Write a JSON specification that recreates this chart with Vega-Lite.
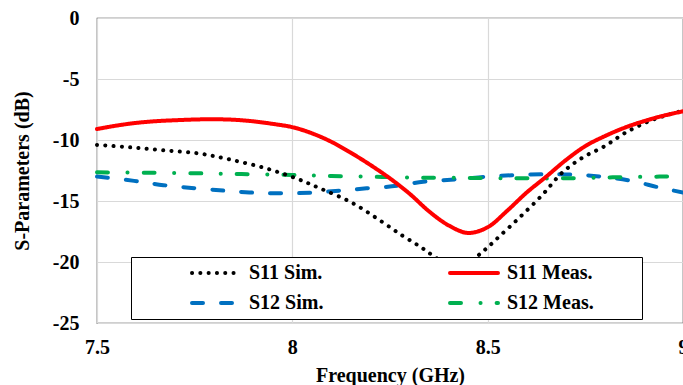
{
  "$schema": "https://vega.github.io/schema/vega-lite/v6.json",
  "width": 586,
  "height": 305,
  "autosize": {"type": "none"},
  "padding": {"left": 97, "top": 18, "right": 0, "bottom": 62},
  "background": "white",
  "config": {
    "view": {"stroke": "#404040", "strokeWidth": 1.2},
    "font": "Liberation Serif",
    "axis": {
      "labelFont": "Liberation Serif", "labelFontSize": 20, "labelFontWeight": "bold", "labelColor": "black",
      "titleFont": "Liberation Serif", "titleFontSize": 20, "titleFontWeight": "bold", "titleColor": "black",
      "domain": false, "ticks": false, "gridColor": "#d9d9d9", "gridWidth": 1.2
    }
  },
  "data": {"values": [
    {"f": 7.5, "v": -13.0, "s": "S12 Sim."},
    {"f": 7.595, "v": -13.35, "s": "S12 Sim."},
    {"f": 7.67, "v": -13.7, "s": "S12 Sim."},
    {"f": 7.75, "v": -13.95, "s": "S12 Sim."},
    {"f": 7.825, "v": -14.15, "s": "S12 Sim."},
    {"f": 7.89, "v": -14.3, "s": "S12 Sim."},
    {"f": 7.965, "v": -14.37, "s": "S12 Sim."},
    {"f": 8.045, "v": -14.32, "s": "S12 Sim."},
    {"f": 8.12, "v": -14.15, "s": "S12 Sim."},
    {"f": 8.19, "v": -13.96, "s": "S12 Sim."},
    {"f": 8.27, "v": -13.75, "s": "S12 Sim."},
    {"f": 8.335, "v": -13.42, "s": "S12 Sim."},
    {"f": 8.43, "v": -13.2, "s": "S12 Sim."},
    {"f": 8.5, "v": -13.0, "s": "S12 Sim."},
    {"f": 8.64, "v": -12.8, "s": "S12 Sim."},
    {"f": 8.72, "v": -12.84, "s": "S12 Sim."},
    {"f": 8.79, "v": -13.0, "s": "S12 Sim."},
    {"f": 8.865, "v": -13.33, "s": "S12 Sim."},
    {"f": 8.94, "v": -13.9, "s": "S12 Sim."},
    {"f": 9.0, "v": -14.3, "s": "S12 Sim."},
    {"f": 7.5, "v": -12.65, "s": "S12 Meas."},
    {"f": 7.63, "v": -12.68, "s": "S12 Meas."},
    {"f": 7.76, "v": -12.73, "s": "S12 Meas."},
    {"f": 7.87, "v": -12.79, "s": "S12 Meas."},
    {"f": 8.0, "v": -12.87, "s": "S12 Meas."},
    {"f": 8.1, "v": -12.95, "s": "S12 Meas."},
    {"f": 8.23, "v": -13.03, "s": "S12 Meas."},
    {"f": 8.335, "v": -13.09, "s": "S12 Meas."},
    {"f": 8.46, "v": -13.11, "s": "S12 Meas."},
    {"f": 8.58, "v": -13.14, "s": "S12 Meas."},
    {"f": 8.69, "v": -13.14, "s": "S12 Meas."},
    {"f": 8.82, "v": -13.06, "s": "S12 Meas."},
    {"f": 8.94, "v": -13.0, "s": "S12 Meas."},
    {"f": 9.0, "v": -13.0, "s": "S12 Meas."},
    {"f": 7.5, "v": -10.4, "s": "S11 Sim."},
    {"f": 7.585, "v": -10.6, "s": "S11 Sim."},
    {"f": 7.67, "v": -10.85, "s": "S11 Sim."},
    {"f": 7.76, "v": -11.1, "s": "S11 Sim."},
    {"f": 7.84, "v": -11.6, "s": "S11 Sim."},
    {"f": 7.93, "v": -12.3, "s": "S11 Sim."},
    {"f": 8.01, "v": -13.15, "s": "S11 Sim."},
    {"f": 8.07, "v": -13.95, "s": "S11 Sim."},
    {"f": 8.15, "v": -15.1, "s": "S11 Sim."},
    {"f": 8.22, "v": -16.5, "s": "S11 Sim."},
    {"f": 8.28, "v": -17.8, "s": "S11 Sim."},
    {"f": 8.33, "v": -18.8, "s": "S11 Sim."},
    {"f": 8.37, "v": -19.7, "s": "S11 Sim."},
    {"f": 8.42, "v": -20.6, "s": "S11 Sim."},
    {"f": 8.47, "v": -19.6, "s": "S11 Sim."},
    {"f": 8.5, "v": -18.8, "s": "S11 Sim."},
    {"f": 8.53, "v": -17.9, "s": "S11 Sim."},
    {"f": 8.58, "v": -16.4, "s": "S11 Sim."},
    {"f": 8.64, "v": -14.5, "s": "S11 Sim."},
    {"f": 8.69, "v": -12.7, "s": "S11 Sim."},
    {"f": 8.745, "v": -11.4, "s": "S11 Sim."},
    {"f": 8.8, "v": -10.5, "s": "S11 Sim."},
    {"f": 8.85, "v": -9.45, "s": "S11 Sim."},
    {"f": 8.91, "v": -8.5, "s": "S11 Sim."},
    {"f": 8.96, "v": -7.95, "s": "S11 Sim."},
    {"f": 9.0, "v": -7.6, "s": "S11 Sim."},
    {"f": 7.5, "v": -9.1, "s": "S11 Meas."},
    {"f": 7.55, "v": -8.82, "s": "S11 Meas."},
    {"f": 7.6, "v": -8.6, "s": "S11 Meas."},
    {"f": 7.65, "v": -8.46, "s": "S11 Meas."},
    {"f": 7.7, "v": -8.38, "s": "S11 Meas."},
    {"f": 7.75, "v": -8.32, "s": "S11 Meas."},
    {"f": 7.8, "v": -8.3, "s": "S11 Meas."},
    {"f": 7.85, "v": -8.34, "s": "S11 Meas."},
    {"f": 7.9, "v": -8.47, "s": "S11 Meas."},
    {"f": 7.95, "v": -8.68, "s": "S11 Meas."},
    {"f": 8.0, "v": -8.95, "s": "S11 Meas."},
    {"f": 8.05, "v": -9.45, "s": "S11 Meas."},
    {"f": 8.1, "v": -10.15, "s": "S11 Meas."},
    {"f": 8.15, "v": -11.05, "s": "S11 Meas."},
    {"f": 8.2, "v": -12.05, "s": "S11 Meas."},
    {"f": 8.25, "v": -13.15, "s": "S11 Meas."},
    {"f": 8.3, "v": -14.4, "s": "S11 Meas."},
    {"f": 8.35, "v": -15.85, "s": "S11 Meas."},
    {"f": 8.4, "v": -17.0, "s": "S11 Meas."},
    {"f": 8.45, "v": -17.62, "s": "S11 Meas."},
    {"f": 8.5, "v": -17.15, "s": "S11 Meas."},
    {"f": 8.55, "v": -15.8, "s": "S11 Meas."},
    {"f": 8.6, "v": -14.3, "s": "S11 Meas."},
    {"f": 8.65, "v": -13.0, "s": "S11 Meas."},
    {"f": 8.7, "v": -11.65, "s": "S11 Meas."},
    {"f": 8.75, "v": -10.5, "s": "S11 Meas."},
    {"f": 8.8, "v": -9.68, "s": "S11 Meas."},
    {"f": 8.85, "v": -9.0, "s": "S11 Meas."},
    {"f": 8.9, "v": -8.46, "s": "S11 Meas."},
    {"f": 8.95, "v": -8.01, "s": "S11 Meas."},
    {"f": 9.0, "v": -7.65, "s": "S11 Meas."}
  ]},
  "mark": {"type": "line", "interpolate": "catmull-rom", "strokeWidth": 4, "strokeCap": "round"},
  "encoding": {
    "x": {
      "field": "f", "type": "quantitative",
      "scale": {"domain": [7.5, 9], "nice": false, "zero": false},
      "axis": {"values": [7.5, 8, 8.5, 9], "labelExpr": "datum.value + ''", "labelFlush": false, "labelPadding": 14, "titlePadding": 8, "title": "Frequency (GHz)"}
    },
    "y": {
      "field": "v", "type": "quantitative",
      "scale": {"domain": [-25, 0], "nice": false, "zero": false},
      "axis": {"values": [-25, -20, -15, -10, -5, 0], "labelExpr": "datum.value + ''", "labelFlush": false, "labelPadding": 18, "titlePadding": 20, "title": "S-Parameters (dB)"}
    },
    "color": {
      "field": "s", "type": "nominal",
      "scale": {"domain": ["S11 Sim.", "S12 Sim.", "S11 Meas.", "S12 Meas."], "range": ["#000000", "#0070c0", "#ff0000", "#00b050"]},
      "legend": {
        "orient": "none", "legendX": 34, "legendY": 239, "columns": 2,
        "title": "\u00a0", "titleOrient": "right", "titlePadding": 42, "titleFontSize": 20,
        "padding": 6, "strokeColor": "black", "fillColor": "white",
        "symbolType": "stroke", "symbolSize": 2304, "symbolStrokeWidth": 4, "clipHeight": 20,
        "symbolOffset": 53, "labelOffset": 7, "columnPadding": 71, "rowPadding": 10,
        "labelFont": "Liberation Serif", "labelFontSize": 20, "labelFontWeight": "bold", "labelColor": "black",
        "encode": {"symbols": {"update": {"strokeCap": {"value": "round"}}}}
      }
    },
    "strokeDash": {
      "field": "s", "type": "nominal",
      "scale": {"domain": ["S11 Sim.", "S12 Sim.", "S11 Meas.", "S12 Meas."], "range": [[0.1, 8.2], [11, 18], [1, 0], [11, 19.5, 0.1, 16]]},
      "legend": {
        "orient": "none", "legendX": 34, "legendY": 239, "columns": 2,
        "title": "\u00a0", "titleOrient": "right", "titlePadding": 42, "titleFontSize": 20,
        "padding": 6, "strokeColor": "black", "fillColor": "white",
        "symbolType": "stroke", "symbolSize": 2304, "symbolStrokeWidth": 4, "clipHeight": 20,
        "symbolOffset": 53, "labelOffset": 7, "columnPadding": 71, "rowPadding": 10,
        "labelFont": "Liberation Serif", "labelFontSize": 20, "labelFontWeight": "bold", "labelColor": "black",
        "encode": {"symbols": {"update": {"strokeCap": {"value": "round"}}}}
      }
    }
  }
}
